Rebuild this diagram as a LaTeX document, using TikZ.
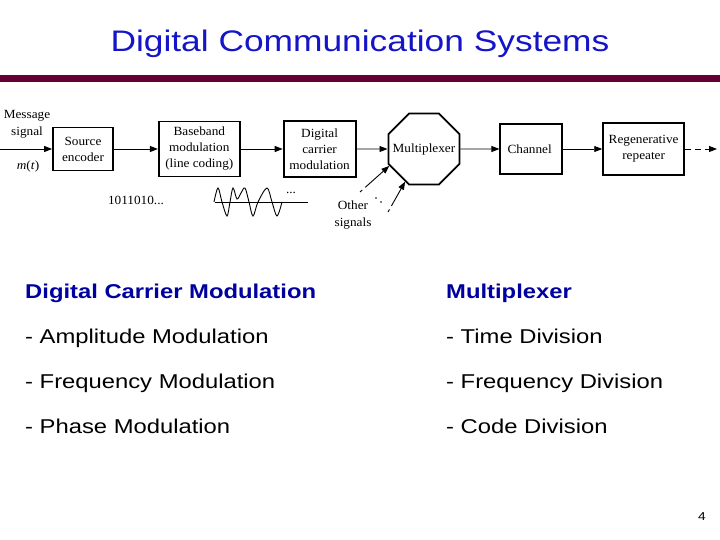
\documentclass[tikz,border=0pt]{standalone}
\usepackage{fontspec}
\setmainfont{Liberation Sans}[FakeStretch=1.19]
\newfontfamily\figfont{Liberation Serif}[FakeStretch=1.06]
\usepackage{tikz}
\usetikzlibrary{
  arrows.meta,
  positioning,
  shapes.geometric
}
\definecolor{titleblue}{RGB}{20,20,200}
\definecolor{headblue}{RGB}{0,0,160}
\definecolor{barmaroon}{RGB}{100,0,50}
\tikzset{
  figtext/.style={ font=\figfont\fontsize{12.5}{16}\selectfont, align=center },
  blockbox/.style={
    figtext,
    draw=black,
    line width=1.8pt,
    inner sep=2pt
  },
  muxbox/.style={
    figtext,
    regular polygon,
    regular polygon sides=8,
    draw=black,
    line width=1.8pt,
    minimum size=77pt,
    inner sep=0pt
  },
  arrow/.style={
    -{Triangle[length=8pt,width=6pt]},
    line width=0.9pt,
    draw=black
  },
  slidehead/.style={
    font=\fontsize{20}{24}\selectfont\bfseries,
    text=headblue,
    anchor=base west,
    inner sep=0pt
  },
  slideitem/.style={
    font=\fontsize{20}{24}\selectfont,
    anchor=base west,
    inner sep=0pt
  }
}

\begin{document}
\begin{tikzpicture}[x=1pt, y=-1pt]
  \useasboundingbox (0,0) rectangle (720,540);
  % title and bar
  \node[
    font=\fontsize{29.7}{36}\selectfont, text=titleblue, anchor=base, inner sep=0pt
  ] (title) at (360,52) {Digital Communication Systems};
  \fill[barmaroon] (0,75) rectangle (720,82);

  % block diagram
  \coordinate (msgin) at (0,149);
  \node[figtext] (msglabel) at (27,124) {Message\\[1pt]signal};
  \node[figtext] (mt) at (28,166) {\textit{m}(\textit{t})};
  \node[blockbox, minimum width=60pt, minimum height=43pt] (srcenc) at (83,149) {
    Source\\encoder
  };
  \node[blockbox, right=44pt of srcenc, minimum width=81pt, minimum height=55pt] (baseband) {
    Baseband\\modulation\\(line coding)
  };
  \node[blockbox, right=42pt of baseband, minimum width=72pt, minimum height=56pt] (carrier) {
    Digital\\carrier\\modulation
  };
  \node[muxbox, right=31pt of carrier] (mux) {\makebox[0pt][c]{Multiplexer}};
  \node[blockbox, right=39pt of mux, minimum width=62pt, minimum height=50pt] (channel) {
    Channel
  };
  \node[blockbox, right=39pt of channel, minimum width=81pt, minimum height=52pt] (regen) {
    Regenerative\\repeater
  };
  \coordinate (regout) at (717,149);
  \draw[arrow] (msgin) -- (srcenc);
  \draw[arrow] (srcenc) -- (baseband);
  \draw[arrow] (baseband) -- (carrier);
  \draw[arrow] (carrier) -- (mux);
  \draw[arrow] (mux) -- (channel);
  \draw[arrow] (channel) -- (regen);
  \draw[arrow, dash pattern=on 6pt off 4pt] (regen) -- (regout);

  % signals under the chain
  \node[figtext] (bits) at (136,200) {1011010...};
  \draw[line width=0.9pt] (215,202) -- (308,202);
  \draw[line width=0.9pt] plot[smooth, tension=0.55] coordinates {
    (214,202) (218,188) (222,202) (227,216) (230,202) (233,188) (237,199)
    (241,193) (245,188) (249,202) (253,216) (258,202) (267,188) (272,202)
    (277,216) (282,202)
  };
  \node[figtext] (wavedots) at (291,193) {...};

  % other signals into the multiplexer
  \coordinate (othA) at (360,192);
  \coordinate (othB) at (388,212);
  \draw[arrow, dash pattern=on 3pt off 4pt on 60pt] (othA) -- (mux.206);
  \draw[arrow, dash pattern=on 3pt off 4pt on 60pt] (othB) -- (mux.240);
  \fill (376,198) circle (0.9);
  \fill (381,202) circle (0.9);
  \node[figtext] (other) at (353,215) {Other\\[1pt]signals};

  % two columns
  \node[slidehead] (dcmhead) at (25,298) {Digital Carrier Modulation};
  \node[slideitem] (amod) at (25,343) {- Amplitude Modulation};
  \node[slideitem] (fmod) at (25,388) {- Frequency Modulation};
  \node[slideitem] (pmod) at (25,433) {- Phase Modulation};
  \node[slidehead] (muxhead) at (446,298) {Multiplexer};
  \node[slideitem] (tdiv) at (446,343) {- Time Division};
  \node[slideitem] (fdiv) at (446,388) {- Frequency Division};
  \node[slideitem] (cdiv) at (446,433) {- Code Division};

  \node[font=\fontsize{11.5}{14}\selectfont, anchor=base, inner sep=0pt] (pagenum) at (702,520) {4};
\end{tikzpicture}
\end{document}
